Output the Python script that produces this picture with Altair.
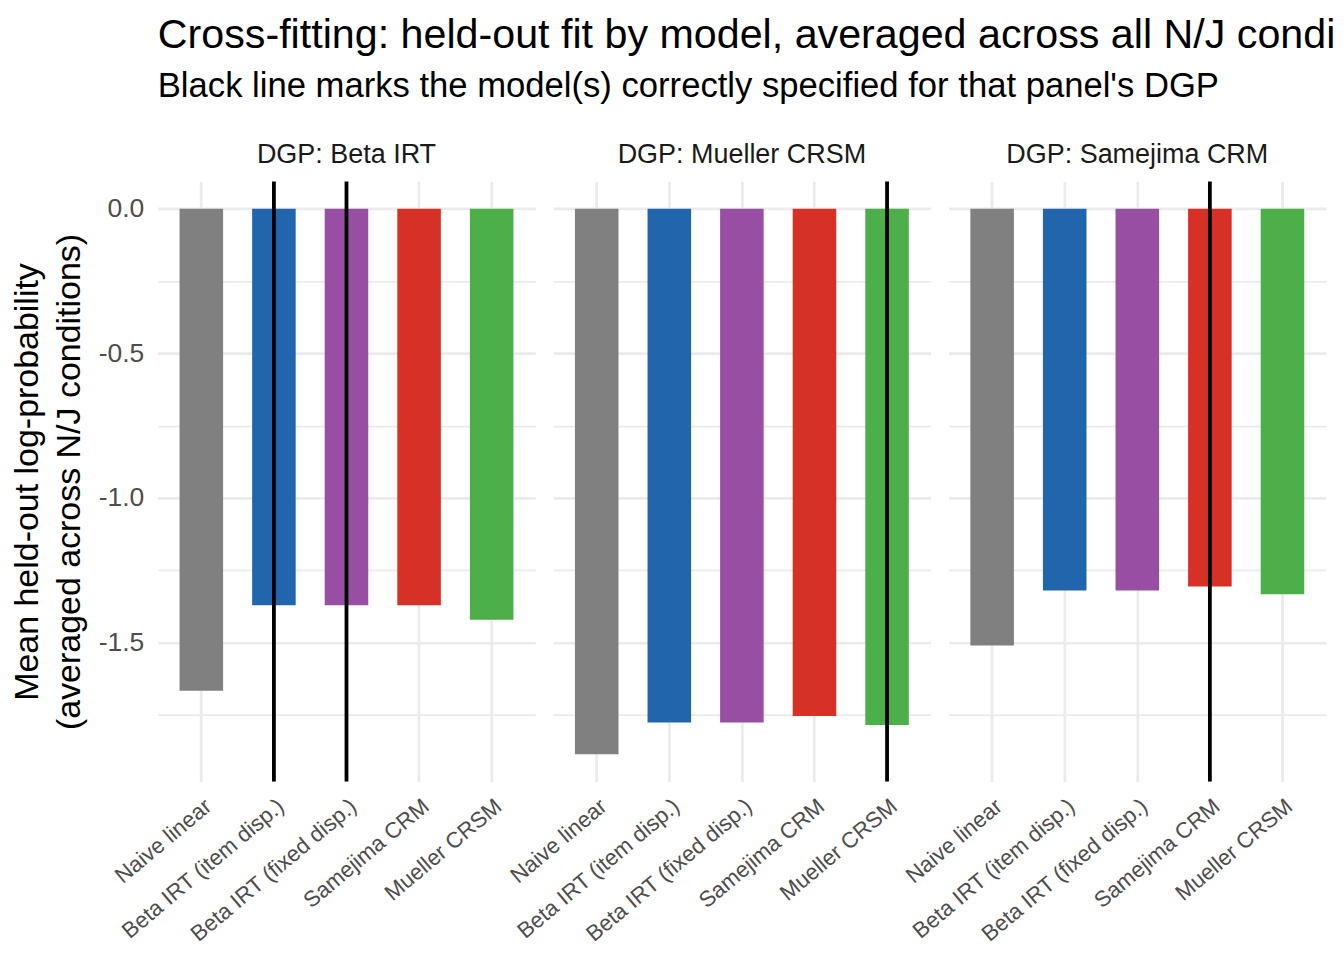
import altair as alt
import pandas as pd

FONT = "Liberation Sans"

models = ["Naive linear", "Beta IRT (item disp.)", "Beta IRT (fixed disp.)",
          "Samejima CRM", "Mueller CRSM"]
colors = ["#808080", "#2166AC", "#984EA3", "#D73027", "#4DAF4A"]
dgps = ["DGP: Beta IRT", "DGP: Mueller CRSM", "DGP: Samejima CRM"]

vals_beta = [-1.666, -1.371, -1.371, -1.371, -1.421]
vals_mueller = [-1.886, -1.776, -1.776, -1.754, -1.785]
vals_samejima = [-1.510, -1.320, -1.320, -1.306, -1.333]

correct_beta = ["Beta IRT (item disp.)", "Beta IRT (fixed disp.)"]
correct_mueller = ["Mueller CRSM"]
correct_samejima = ["Samejima CRM"]

title_text = "Cross-fitting: held-out fit by model, averaged across all N/J conditions"
subtitle_text = "Black line marks the model(s) correctly specified for that panel's DGP"
y_title = ["Mean held-out log-probability", "(averaged across N/J conditions)"]
y_ticks = [0, -0.25, -0.5, -0.75, -1.0, -1.25, -1.5, -1.75]

rows = []
for dgp, vals, corr in zip(dgps, [vals_beta, vals_mueller, vals_samejima],
                           [correct_beta, correct_mueller, correct_samejima]):
    for m, v in zip(models, vals):
        rows.append({"dgp": dgp, "model": m, "value": v, "correct": m in corr})
df = pd.DataFrame(rows)

all_vals = vals_beta + vals_mueller + vals_samejima
lo_v = min(min(all_vals), 0)
hi_v = max(max(all_vals), 0)
span = hi_v - lo_v
y_domain = [lo_v - 0.05 * span, hi_v + 0.05 * span]

is_minor = "abs(datum.value*2 - round(datum.value*2)) > 0.001"

x_enc = alt.X(
    "model:N", sort=models,
    scale=alt.Scale(paddingInner=0.4, paddingOuter=0.3),
    axis=alt.Axis(
        title=None, labelAngle=320, labelAlign="right", labelBaseline="top",
        labelFontSize=22.3, labelColor="#4d4d4d", labelFont=FONT,
        labelPadding=11, ticks=False, domain=False, grid=True,
        gridColor="#ebebeb", gridWidth=2.7, bandPosition=0.5, labelLimit=500,
    ),
)

y_enc = alt.Y(
    "value:Q",
    scale=alt.Scale(domain=y_domain, nice=False, zero=False),
    axis=alt.Axis(
        values=y_ticks,
        labelExpr=("abs(datum.value*2 - round(datum.value*2)) < 0.001 ? "
                   "(datum.value == 0 ? '0.0' : '-' + format(abs(datum.value), '.1f')) : ''"),
        title=y_title, titleFontSize=34, titleFont=FONT, titleFontWeight="normal",
        titleColor="black", titleLineHeight=42, titlePadding=12,
        labelFontSize=26.5, labelFont=FONT, labelColor="#4d4d4d", labelPadding=14,
        ticks=False, domain=False, grid=True, gridColor="#ebebeb",
        gridWidth={"condition": {"test": is_minor, "value": 1.8}, "value": 2.7},
    ),
)

bars = alt.Chart().mark_bar().encode(
    x=x_enc,
    y=y_enc,
    y2=alt.datum(0),
    color=alt.Color("model:N", scale=alt.Scale(domain=models, range=colors), legend=None),
)

rules = alt.Chart().transform_filter("datum.correct").mark_rule(
    color="black", strokeWidth=3.8
).encode(x=x_enc)

layered = alt.layer(bars, rules, data=df).properties(width=378, height=601)

chart = layered.facet(
    column=alt.Column(
        "dgp:N", sort=dgps,
        header=alt.Header(title=None, labelFontSize=27, labelColor="#1a1a1a",
                          labelFont=FONT, labelPadding=10, labelOrient="top"),
    )
).properties(
    title=alt.TitleParams(
        text=title_text,
        subtitle=subtitle_text,
        anchor="start", font=FONT, fontSize=41.3, fontWeight="normal", color="black",
        subtitleFont=FONT, subtitleFontSize=34.7, subtitleColor="black",
        subtitlePadding=14, offset=38, frame="group", limit=1182,
    ),
    padding={"left": 2, "top": 6, "right": 0, "bottom": 5},
).configure(
    style={"group-title": {"ellipsis": "\u200b"}}
).configure_facet(spacing=18).configure_view(stroke=None)

chart.save("out.html", embed_options={"renderer": "svg", "actions": False})
